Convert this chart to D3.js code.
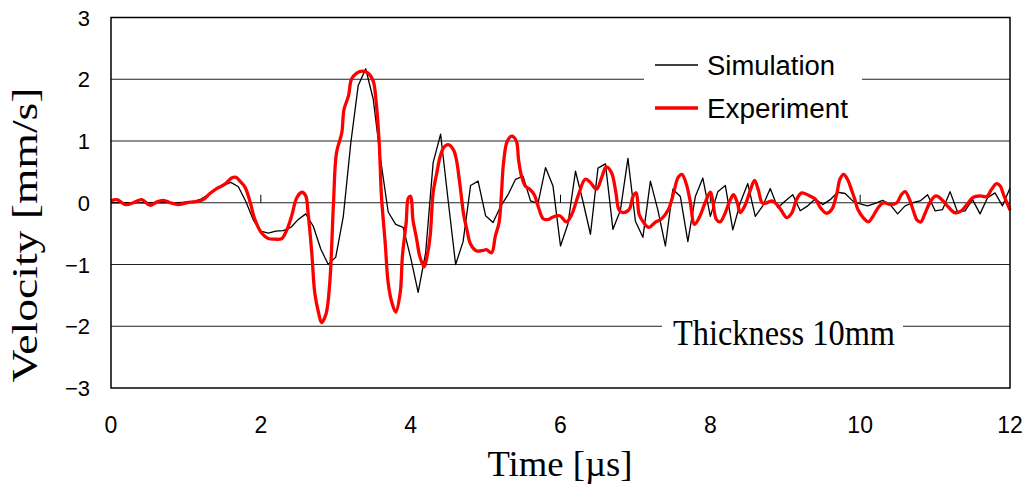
<!DOCTYPE html>
<head>
	<meta charset="utf-8">
	<title>Velocity - Thickness 10mm</title>
	<script src="https://d3js.org/d3.v7.min.js"></script>
	<style>
		body { margin: 0; background: #fff; }
		.tick-label { font-family: "Liberation Sans", Arial, sans-serif; font-size: 22px; fill: #000; }
		.xtick { font-size: 23px; }
		.serif { font-family: "Liberation Serif", "Times New Roman", serif; font-size: 35px; fill: #000; }
		.legend { font-family: "Liberation Sans", Arial, sans-serif; font-size: 27px; fill: #000; }
		.grid { stroke: #222; stroke-width: 1; }
	</style>
</head>
<body>
	<div id="chart"></div>
	<script>
		var width = 1029,
			height = 487;

		var margin = {left: 111, right: 19, top: 17.5, bottom: 99};

		// simulation: sampled every 0.1 us from 0 to 12
		var simStep = 0.1;
		var simV = [
			0, 0, 0, 0, 0, 0, 0, 0, 0, 0,
			0.01, 0.02, 0.06, 0.13, 0.22, 0.28, 0.33, 0.26, 0.02, -0.28,
			-0.46, -0.49, -0.46, -0.45, -0.40, -0.27, -0.18, -0.38, -0.75, -1.00,
			-0.88, -0.23, 0.96, 1.90, 2.17, 1.68, 0.69, -0.15, -0.35, -0.40,
			-0.89, -1.45, -0.81, 0.65, 1.11, 0.04, -1.00, -0.63, 0.28, 0.35,
			-0.21, -0.32, -0.06, 0.13, 0.38, 0.43, 0.03, -0.01, 0.57, 0.27,
			-0.70, -0.34, 0.51, 0.02, -0.51, 0.56, 0.63, -0.43, -0.12, 0.72,
			-0.30, -0.56, 0.35, -0.12, -0.70, 0.22, 0.10, -0.63, 0.10, 0.40,
			-0.22, 0.18, 0.28, -0.44, 0.00, 0.31, -0.22, -0.05, 0.23, -0.08,
			0.03, 0.13, -0.13, -0.05, 0.06, -0.03, 0.05, 0.17, 0.15, 0.03,
			-0.02, -0.05, -0.01, 0.04, -0.03, -0.18, -0.05, 0.00, 0.03, 0.13,
			-0.13, -0.11, 0.18, -0.15, -0.13, 0.05, -0.18, 0.08, 0.16, -0.05,
			0.24
		];

		// experiment
		var expT = [
			0.00, 0.08, 0.19, 0.30, 0.41, 0.52, 0.61, 0.70, 0.79, 0.90,
			1.01, 1.14, 1.23, 1.32, 1.41, 1.52, 1.61, 1.67, 1.72, 1.79,
			1.86, 1.92, 2.01, 2.10, 2.19, 2.28, 2.34, 2.41, 2.48, 2.55,
			2.60, 2.63, 2.68, 2.72, 2.77, 2.81, 2.87, 2.92, 2.97, 3.01,
			3.08, 3.11, 3.17, 3.21, 3.28, 3.36, 3.43, 3.50, 3.54, 3.58,
			3.61, 3.66, 3.70, 3.75, 3.80, 3.86, 3.89, 3.94, 3.97, 4.00,
			4.03, 4.08, 4.12, 4.18, 4.22, 4.26, 4.30, 4.35, 4.39, 4.44,
			4.50, 4.57, 4.61, 4.66, 4.71, 4.75, 4.80, 4.88, 4.97, 5.01,
			5.08, 5.13, 5.18, 5.21, 5.24, 5.29, 5.35, 5.41, 5.44, 5.48,
			5.53, 5.59, 5.65, 5.70, 5.77, 5.84, 5.90, 5.99, 6.08, 6.15,
			6.24, 6.33, 6.39, 6.48, 6.55, 6.61, 6.68, 6.74, 6.78, 6.84,
			6.92, 6.97, 7.01, 7.05, 7.11, 7.18, 7.26, 7.35, 7.44, 7.51,
			7.57, 7.62, 7.68, 7.73, 7.79, 7.86, 7.93, 8.00, 8.03, 8.08,
			8.13, 8.19, 8.26, 8.31, 8.36, 8.40, 8.46, 8.53, 8.59, 8.64,
			8.69, 8.73, 8.82, 8.89, 8.95, 9.02, 9.09, 9.15, 9.22, 9.31,
			9.40, 9.47, 9.55, 9.62, 9.69, 9.73, 9.78, 9.83, 9.89, 9.93,
			9.97, 10.04, 10.11, 10.17, 10.24, 10.31, 10.40, 10.49, 10.55, 10.60,
			10.66, 10.71, 10.76, 10.81, 10.86, 10.93, 11.01, 11.09, 11.17, 11.26,
			11.35, 11.43, 11.51, 11.60, 11.69, 11.75, 11.82, 11.87, 11.92, 11.97,
			12.00
		];
		var expV = [
			0.03, 0.05, -0.03, 0.00, 0.05, -0.04, 0.01, 0.04, 0.00, -0.03,
			0.00, 0.02, 0.05, 0.15, 0.23, 0.30, 0.40, 0.41, 0.35, 0.25,
			0.00, -0.27, -0.49, -0.58, -0.59, -0.58, -0.46, -0.22, 0.08, 0.17,
			0.11, -0.16, -0.81, -1.46, -1.78, -1.94, -1.80, -1.30, 0.00, 0.81,
			1.13, 1.51, 1.73, 2.00, 2.10, 2.13, 2.10, 1.97, 1.62, 0.97,
			0.11, -0.65, -1.30, -1.62, -1.77, -1.46, -0.86, -0.32, 0.08, 0.10,
			-0.27, -0.59, -0.86, -1.04, -0.86, -0.54, 0.16, 0.49, 0.73, 0.89,
			0.94, 0.86, 0.70, 0.27, -0.21, -0.43, -0.67, -0.78, -0.77, -0.76,
			-0.81, -0.54, -0.32, 0.11, 0.65, 1.00, 1.08, 1.00, 0.70, 0.43,
			0.27, 0.22, 0.13, -0.05, -0.26, -0.27, -0.23, -0.21, -0.31, -0.19,
			0.13, 0.38, 0.34, 0.22, 0.41, 0.58, 0.49, 0.16, -0.11, -0.16,
			-0.10, 0.11, 0.16, -0.19, -0.32, -0.40, -0.32, -0.26, -0.11, 0.16,
			0.41, 0.46, 0.30, 0.03, -0.35, -0.22, 0.00, 0.17, 0.05, -0.27,
			-0.31, -0.19, 0.03, 0.13, 0.00, -0.16, -0.05, 0.19, 0.36, 0.21,
			0.00, -0.01, 0.03, -0.03, -0.13, -0.24, -0.16, 0.05, 0.16, 0.12,
			0.06, -0.08, -0.17, -0.11, 0.16, 0.38, 0.46, 0.38, 0.19, 0.05,
			-0.11, -0.24, -0.31, -0.22, -0.08, 0.00, -0.03, 0.00, 0.13, 0.18,
			0.05, -0.13, -0.28, -0.31, -0.19, 0.00, 0.11, 0.05, -0.06, -0.16,
			-0.13, -0.02, 0.09, 0.11, 0.10, 0.21, 0.31, 0.27, 0.11, -0.03,
			-0.12
		];

		var xTicks = [0, 2, 4, 6, 8, 10, 12];
		var yTicks = [-3, -2, -1, 0, 1, 2, 3];

		var svg = d3.select("#chart")
			.append("svg")
			.attr("width", width)
			.attr("height", height);

		var x = d3.scaleLinear().domain([0, 12]).range([margin.left, width - margin.right]);
		var y = d3.scaleLinear().domain([-3, 3]).range([height - margin.bottom, margin.top]);

		var simData = simV.map(function(v, i) { return {t: i * simStep, v: v}; });
		var expData = expT.map(function(t, i) { return {t: t, v: expV[i]}; });

		// gridlines
		svg.append("g")
			.selectAll("line")
			.data(yTicks.filter(function(d) { return d > -3 && d < 3; }))
			.enter().append("line")
			.attr("class", "grid")
			.attr("x1", x(0)).attr("x2", x(12))
			.attr("y1", function(d) { return y(d); })
			.attr("y2", function(d) { return y(d); });

		// small ticks on the zero line
		svg.append("g")
			.selectAll("line")
			.data(xTicks.slice(1, -1))
			.enter().append("line")
			.attr("x1", function(d) { return x(d); })
			.attr("x2", function(d) { return x(d); })
			.attr("y1", y(0))
			.attr("y2", y(0) - 8)
			.attr("stroke", "#000")
			.attr("stroke-width", 1);

		// legend and label boxes hide the gridlines under them
		svg.append("rect")
			.attr("x", 644).attr("y", 44)
			.attr("width", 218).attr("height", 86)
			.attr("fill", "#fff");
		svg.append("rect")
			.attr("x", 662).attr("y", 314)
			.attr("width", 241).attr("height", 38)
			.attr("fill", "#fff");

		var line = d3.line()
			.x(function(d) { return x(d.t); })
			.y(function(d) { return y(d.v); });

		svg.append("path")
			.datum(simData)
			.attr("d", line)
			.attr("fill", "none")
			.attr("stroke", "#000")
			.attr("stroke-width", 1.3)
			.attr("stroke-linejoin", "round");

		svg.append("path")
			.datum(expData)
			.attr("d", line.curve(d3.curveCatmullRom.alpha(0.5)))
			.attr("fill", "none")
			.attr("stroke", "#ff0000")
			.attr("stroke-width", 3.3)
			.attr("stroke-linejoin", "round");

		// plot frame
		svg.append("rect")
			.attr("x", x(0)).attr("y", y(3))
			.attr("width", x(12) - x(0))
			.attr("height", y(-3) - y(3))
			.attr("fill", "none")
			.attr("stroke", "#000")
			.attr("stroke-width", 1.5);

		// tick labels
		svg.append("g")
			.selectAll("text")
			.data(yTicks)
			.enter().append("text")
			.attr("class", "tick-label")
			.attr("x", 90)
			.attr("y", function(d) { return y(d) + 8; })
			.attr("text-anchor", "end")
			.text(function(d) { return d < 0 ? "\u2212" + (-d) : d; });

		svg.append("g")
			.selectAll("text")
			.data(xTicks)
			.enter().append("text")
			.attr("class", "tick-label xtick")
			.attr("x", function(d) { return x(d); })
			.attr("y", 433)
			.attr("text-anchor", "middle")
			.text(function(d) { return d; });

		// axis titles
		svg.append("text")
			.attr("class", "serif")
			.attr("transform", "translate(37,235) rotate(-90)")
			.attr("text-anchor", "middle")
			.attr("textLength", 295)
			.attr("lengthAdjust", "spacingAndGlyphs")
			.text("Velocity [mm/s]");

		svg.append("text")
			.attr("class", "serif")
			.attr("x", 560)
			.attr("y", 476)
			.attr("text-anchor", "middle")
			.attr("textLength", 145)
			.attr("lengthAdjust", "spacingAndGlyphs")
			.text("Time [\u00b5s]");

		svg.append("text")
			.attr("class", "serif")
			.attr("x", 673)
			.attr("y", 345)
			.attr("textLength", 222)
			.attr("lengthAdjust", "spacingAndGlyphs")
			.text("Thickness 10mm");

		// legend
		var legend = [
			{name: "Simulation", color: "#000", w: 1.3, y: 65, len: 128},
			{name: "Experiment", color: "#ff0000", w: 3.3, y: 108, len: 141}
		];
		var lg = svg.append("g").selectAll("g")
			.data(legend)
			.enter().append("g");
		lg.append("line")
			.attr("x1", 655).attr("x2", 698)
			.attr("y1", function(d) { return d.y; })
			.attr("y2", function(d) { return d.y; })
			.attr("stroke", function(d) { return d.color; })
			.attr("stroke-width", function(d) { return d.w; });
		lg.append("text")
			.attr("class", "legend")
			.attr("x", 707)
			.attr("y", function(d) { return d.y + 10; })
			.attr("textLength", function(d) { return d.len; })
			.attr("lengthAdjust", "spacingAndGlyphs")
			.text(function(d) { return d.name; });
	</script>
</body>
